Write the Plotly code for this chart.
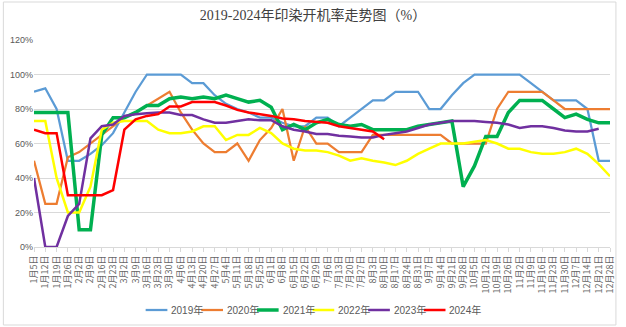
import plotly.graph_objects as go

# Weekly category labels
dates = ["1月5日", "1月12日", "1月19日", "1月26日", "2月2日", "2月9日", "2月16日", "2月23日",
         "3月2日", "3月9日", "3月16日", "3月23日", "3月30日", "4月6日", "4月13日", "4月20日",
         "4月27日", "5月4日", "5月11日", "5月18日", "5月25日", "6月1日", "6月8日", "6月15日",
         "6月22日", "6月29日", "7月6日", "7月13日", "7月20日", "7月27日", "8月3日", "8月10日",
         "8月17日", "8月24日", "8月31日", "9月7日", "9月14日", "9月21日", "9月28日", "10月5日",
         "10月12日", "10月19日", "10月26日", "11月2日", "11月9日", "11月16日", "11月23日",
         "11月30日", "12月7日", "12月14日", "12月21日", "12月28日"]

# Operating rate (%) per year
rate_2019 = [90, 92, 80, 50, 50, 54, 59, 66, 78, 90, 100, 100, 100, 100, 95, 95, 88, 83, 80, 78,
             75, 75, 72, 70, 70, 75, 75, 70, 75, 80, 85, 85, 90, 90, 90, 80, 80, 88, 95, 100,
             100, 100, 100, 100, 95, 90, 85, 85, 85, 80, 50, 50]
rate_2020 = [50, 25, 25, 52, 55, 60, 65, 70, 75, 78, 82, 86, 90, 78, 68, 60, 55, 55, 60, 50,
             62, 69, 80, 50, 70, 60, 60, 55, 55, 55, 65, 65, 65, 65, 65, 65, 65, 60, 60, 60,
             60, 80, 90, 90, 90, 90, 85, 80, 80, 80, 80, 80]
rate_2021 = [78, 78, 78, 78, 10, 10, 65, 75, 75, 78, 82, 82, 86, 87, 86, 87, 86, 88, 86, 84,
             85, 81, 68, 71, 68, 72, 74, 71, 70, 71, 68, 68, 68, 68, 70, 71, 72, 73, 35, 47,
             64, 64, 78, 85, 85, 85, 80, 75, 77, 74, 72, 72]
rate_2022 = [73, 73, 40, 20, 20, 35, 68, 72, 73, 73, 73, 68, 66, 66, 67, 70, 70, 62, 65, 65,
             69, 66, 60, 57, 56, 56, 55, 53, 50, 51.5, 50, 49, 47.5, 50, 54, 57, 60, 60, 60, 61,
             62, 60, 57, 57, 55, 54, 54, 55, 57, 54, 48, 41]
rate_2023 = [40, 0, 0, 18, 25, 63, 70, 71, 76, 77, 77.5, 78, 78, 76.5, 76.5, 74, 72, 72, 73, 74,
             73.5, 73.5, 70, 68, 67, 65.5, 65.5, 64.5, 64, 63.5, 63.5, 65, 66, 67, 69, 71, 72,
             73, 73, 73, 72.5, 72, 71, 69, 70, 70, 69, 67.5, 67, 67, 68.5, None]
rate_2024 = [68, 66, 66, 30, 30, 30, 30, 33, 68, 74, 76, 77, 81.5, 81.5, 84, 84, 84, 82, 79.5,
             78, 77, 76, 74.5, 74, 73, 72.5, 72, 70, 69, 68, 67, 62.5] + [None] * 20

series_names = ["2019年", "2020年", "2021年", "2022年", "2023年", "2024年"]
series_values = [rate_2019, rate_2020, rate_2021, rate_2022, rate_2023, rate_2024]
series_colors = ["#5B9BD5", "#ED7D31", "#00B050", "#FFFF00", "#7030A0", "#FF0000"]
series_widths = [2.25, 2.25, 3.5, 2.5, 2.5, 2.5]

y_ticks = [0, 20, 40, 60, 80, 100, 120]
y_tick_labels = [f"{v}%" for v in y_ticks]

# Page geometry (pixels)
W, H = 626, 327
ML, MR, MT, MB = 33, 10, 40, 80
PW, PH = W - ML - MR, H - MT - MB


def px_x(p):
    return (p - ML) / PW


def px_y(p):
    return (H - MB - p) / PH


fig = go.Figure()
for name, vals, color, width in zip(series_names, series_values, series_colors, series_widths):
    fig.add_trace(go.Scatter(
        x=dates, y=vals, name=name, mode="lines",
        line=dict(color=color, width=width),
        connectgaps=False, showlegend=False,
        hovertemplate="%{x}: %{y}%<extra>" + name + "</extra>",
    ))

# Legend row under the chart
shapes = []
annotations = []
leg_x0, leg_pitch, leg_len, leg_y = 146, 56.3, 22, 310
for k, (name, color, width) in enumerate(zip(series_names, series_colors, series_widths)):
    x0 = leg_x0 + k * leg_pitch
    shapes.append(dict(type="line", xref="paper", yref="paper",
                       x0=px_x(x0), x1=px_x(x0 + leg_len), y0=px_y(leg_y), y1=px_y(leg_y),
                       line=dict(color=color, width=width)))
    annotations.append(dict(text=name, xref="paper", yref="paper",
                            x=px_x(x0 + leg_len + 2), y=px_y(leg_y),
                            xanchor="left", yanchor="middle", showarrow=False,
                            font=dict(size=10, color="#595959",
                                      family="Liberation Sans, Noto Sans CJK SC")))

# Chart-area outline
shapes.append(dict(type="rect", xref="paper", yref="paper", layer="below",
                   x0=px_x(2), x1=px_x(622), y0=px_y(325), y1=px_y(2),
                   line=dict(color="#D9D9D9", width=1), fillcolor="rgba(0,0,0,0)"))

fig.update_layout(
    width=W, height=H,
    margin=dict(l=ML, r=MR, t=MT, b=MB),
    paper_bgcolor="white", plot_bgcolor="white",
    title=dict(text="2019-2024年印染开机率走势图（%）",
               x=0.5, xref="container", xanchor="center",
               y=1 - 15 / H, yref="container", yanchor="middle",
               font=dict(size=14, color="#404040",
                         family="Liberation Serif, Noto Sans CJK SC")),
    xaxis=dict(type="category", range=[0, len(dates) - 1],
               tickmode="array", tickvals=dates, ticktext=dates,
               tickangle=-90, showgrid=False,
               showline=True, linecolor="#D9D9D9", linewidth=1,
               ticks="outside", ticklen=4, tickcolor="#D9D9D9",
               tickfont=dict(size=9, color="#666666", family="Noto Sans CJK SC")),
    yaxis=dict(range=[0, 120], tickmode="array", tickvals=y_ticks, ticktext=y_tick_labels,
               showgrid=True, gridcolor="#D9D9D9", gridwidth=1,
               zeroline=False, showline=False, ticks="",
               tickfont=dict(size=9, color="#595959", family="Liberation Sans")),
    shapes=shapes,
    annotations=annotations,
    showlegend=False,
)

fig.write_html("out.html")
